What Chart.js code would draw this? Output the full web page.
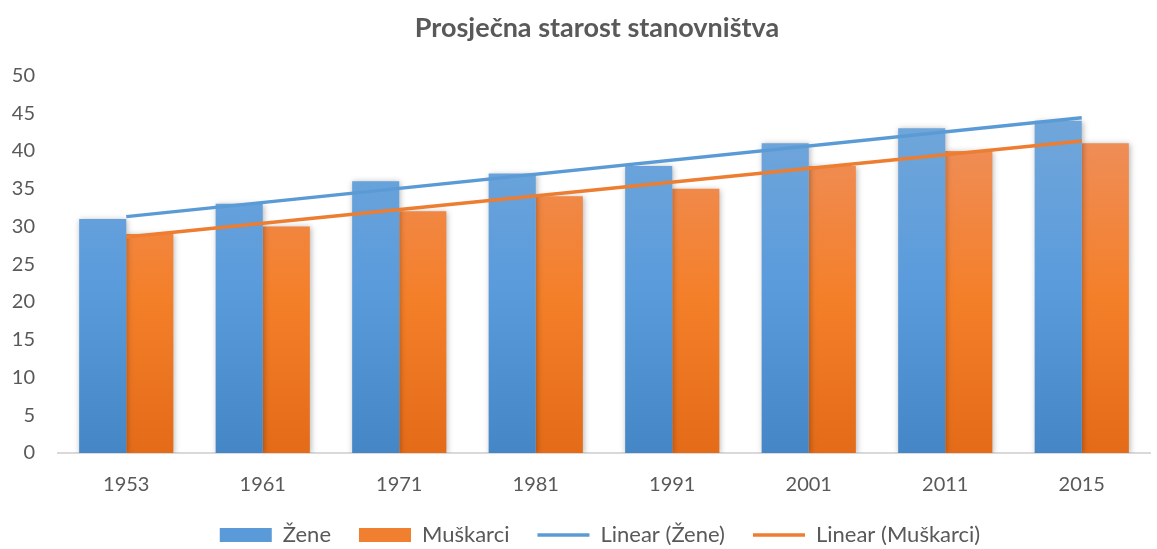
<!DOCTYPE html>
<html>
<head>
<meta charset="utf-8">
<script src="https://cdn.jsdelivr.net/npm/chart.js@4"></script>
<style>
  html, body { margin: 0; padding: 0; background: #fff; }
  #wrap { width: 1157px; height: 549px; }
</style>
</head>
<body>
<div id="wrap"><canvas id="chart" width="1157" height="549"></canvas></div>
<script>
const years = ['1953', '1961', '1971', '1981', '1991', '2001', '2011', '2015'];
const zene = [31, 33, 36, 37, 38, 41, 43, 44];
const muskarci = [29, 30, 32, 34, 35, 38, 40, 41];
// trend line end points
const trendZene = [31.3, null, null, null, null, null, null, 44.4];
const trendMuskarci = [28.6, null, null, null, null, null, null, 41.3];

const textColor = '#595959';
const fontFamily = 'Lato, "Open Sans", sans-serif';

const blueStops = ['#70a6da', '#5a9bdc', '#4486c6'];
const orangeStops = ['#ef8d57', '#f47f29', '#e46b18'];

// per-bar vertical gradient plus soft shadow, like the office chart
const barStyle = {
    id: 'barStyle',
    beforeDatasetDraw(chart, args) {
        const meta = args.meta;
        if (meta.type !== 'bar') return;
        const ctx = chart.ctx;
        const stops = args.index === 0 ? blueStops : orangeStops;
        meta.data.forEach(bar => {
            const g = ctx.createLinearGradient(0, bar.y, 0, bar.base);
            g.addColorStop(0, stops[0]);
            g.addColorStop(0.5, stops[1]);
            g.addColorStop(1, stops[2]);
            bar.options.backgroundColor = g;
        });
        ctx.save();
        ctx.shadowColor = 'rgba(0,0,0,0.3)';
        ctx.shadowBlur = 6;
        ctx.shadowOffsetX = 1;
        ctx.shadowOffsetY = 1;
    },
    afterDatasetDraw(chart, args) {
        if (args.meta.type !== 'bar') return;
        chart.ctx.restore();
    }
};

// keep the legend short vertically (its padding is only wanted horizontally)
// and nudge legend + title a bit right, like the reference
const layoutTweak = {
    id: 'layoutTweak',
    beforeUpdate(chart) {
        const lg = chart.legend;
        if (!lg || lg._tweaked) return;
        const fit = lg.fit;
        lg.fit = function () {
            fit.call(this);
            this.height = 49;
        };
        lg._tweaked = true;
    },
    afterLayout(chart) {
        const lg = chart.legend;
        if (lg) {
            lg.left += 25;
            lg.right += 25;
        }
        const tb = chart.titleBlock;
        if (tb) {
            tb.left += 22;
            tb.right += 22;
        }
    }
};

new Chart(document.getElementById('chart'), {
    type: 'bar',
    data: {
        labels: years,
        datasets: [
            {
                label: 'Žene',
                data: zene,
                backgroundColor: '#5b9bd5',
                categoryPercentage: 0.69,
                barPercentage: 1,
                order: 2
            },
            {
                label: 'Muškarci',
                data: muskarci,
                backgroundColor: '#ed7d31',
                categoryPercentage: 0.69,
                barPercentage: 1,
                order: 2
            },
            {
                type: 'line',
                label: 'Linear (Žene)',
                data: trendZene,
                borderColor: '#5b9bd5',
                backgroundColor: '#5b9bd5',
                borderWidth: 3.5,
                pointRadius: 0,
                spanGaps: true,
                order: 1
            },
            {
                type: 'line',
                label: 'Linear (Muškarci)',
                data: trendMuskarci,
                borderColor: '#ed7d31',
                backgroundColor: '#ed7d31',
                borderWidth: 3.5,
                pointRadius: 0,
                spanGaps: true,
                order: 1
            }
        ]
    },
    options: {
        responsive: false,
        animation: false,
        layout: { padding: { left: 0, right: 7, top: 4, bottom: 4 } },
        plugins: {
            title: {
                display: true,
                text: 'Prosječna starost stanovništva',
                color: textColor,
                font: { family: fontFamily, size: 27, weight: 'bold' },
                padding: { top: 8, bottom: 31 }
            },
            legend: {
                position: 'bottom',
                labels: {
                    color: textColor,
                    font: { family: fontFamily, size: 22 },
                    usePointStyle: true,
                    pointStyleWidth: 52,
                    boxHeight: 14,
                    padding: 28,
                    generateLabels(chart) {
                        return chart.data.datasets.map((ds, i) => ({
                            text: ds.label,
                            fillStyle: i < 2 ? (i === 0 ? '#5a9ad8' : '#f07f30') : ds.borderColor,
                            strokeStyle: ds.borderColor || ds.backgroundColor,
                            lineWidth: i < 2 ? 0 : 3.5,
                            pointStyle: i < 2 ? 'rect' : 'line',
                            fontColor: textColor,
                            hidden: false,
                            datasetIndex: i
                        }));
                    }
                }
            },
            tooltip: { enabled: false }
        },
        scales: {
            x: {
                grid: { display: false, drawTicks: false },
                border: { display: true, color: '#d9d9d9', width: 2 },
                ticks: {
                    color: textColor,
                    font: { family: fontFamily, size: 20 },
                    padding: 20
                },
                afterFit(scale) { scale.height = 43; }
            },
            y: {
                min: 0,
                max: 50,
                grid: { display: false, drawTicks: false },
                border: { display: false },
                ticks: {
                    stepSize: 5,
                    color: textColor,
                    font: { family: fontFamily, size: 20 },
                    padding: 23
                },
                afterFit(scale) { scale.width = 58; }
            }
        }
    },
    plugins: [barStyle, layoutTweak]
});
</script>
</body>
</html>
